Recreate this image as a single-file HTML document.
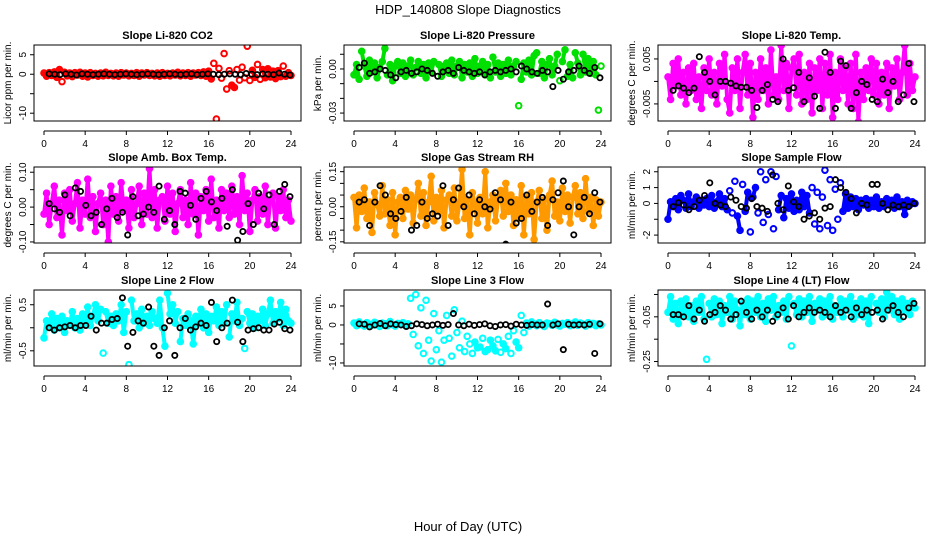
<!DOCTYPE html>
<html><head><meta charset="utf-8">
<style>
html,body{margin:0;padding:0;background:#fff;}
svg{display:block;font-family:"Liberation Sans",sans-serif;}
</style></head>
<body>
<svg id="chart" width="936" height="540" viewBox="0 0 936 540" xmlns="http://www.w3.org/2000/svg">
<text x="468" y="14" text-anchor="middle" font-size="13">HDP_140808  Slope Diagnostics</text>
<text x="468" y="531" text-anchor="middle" font-size="13">Hour of Day (UTC)</text>
</svg>
<script>
// ---- data (values; hours evenly spaced 0..24 across each series) ----
const hourTicks = [0,4,8,12,16,20,24];
const titles = ["Slope Li-820 CO2","Slope Li-820 Pressure","Slope Li-820 Temp.","Slope Amb. Box Temp.","Slope Gas Stream RH","Slope Sample Flow","Slope Line 2 Flow","Slope Line 3 Flow","Slope Line 4 (LT) Flow"];
const yTitles = ["Licor ppm per min.","kPa per min.","degrees C per min.","degrees C per min.","percent per min.","ml/min per min.","ml/min per min.","ml/min per min.","ml/min per min."];
const colors = ["#ff0000","#00e000","#ff00ff","#ff00ff","#ff9900","#0000ff","#00ffff","#00ffff","#00ffff"];
const yRanges = [[-12,7.5],[-0.0354,0.0163],[-0.0088,0.0081],[-0.103,0.115],[-0.155,0.17],[-2.5,2.3],[-0.83,0.82],[-10.8,9.2],[-0.27,0.07]];
const yTickVals = [[-10,-5,0,5],[-0.03,-0.02,-0.01,0,0.01],[-0.005,0,0.005],[-0.1,-0.05,0,0.05,0.1],[-0.15,-0.1,-0.05,0,0.05,0.1,0.15],[-2,-1,0,1,2],[-0.5,0,0.5],[-10,-5,0,5],[-0.25,-0.15,-0.05,0.05]];
const yTickLabels = [["-10","","0","5"],["-0.03","","","0.00",""],["-0.005","","0.005"],["-0.10","","0.00","","0.10"],["-0.15","","","0.00","","","0.15"],["-2","","0","1","2"],["-0.5","","0.5"],["-10","","0","5"],["-0.25","","-0.05",""]];

const co2 = [0.3,-0.5,0.4,-0.3,0.6,-0.8,1.2,-1.9,0.5,-0.4,0.3,-0.6,0.4,-0.2,0.5,-0.5,0.3,-0.7,0.4,-0.3,0.2,-0.5,0.3,-0.4,0.5,-0.3,0.2,-0.4,0.3,-0.5,0.4,-0.2,0.3,-0.4,0.2,-0.3,0.4,-0.5,0.3,-0.2,0.4,-0.3,0.2,-0.4,0.3,-0.5,0.4,-0.3,0.2,-0.4,0.3,-0.2,0.5,-0.4,0.3,-0.3,0.4,-0.5,0.3,-0.2,0.4,-0.3,0.6,-0.5,0.8,-1.2,2.8,-11.5,1.5,-1.0,5.3,-3.8,0.9,-2.8,-3.4,1.2,-1.5,1.8,-0.9,7.2,-1.6,1.0,-0.8,2.5,-1.3,1.2,-0.9,1.4,-0.7,0.8,-1.1,0.9,-0.6,2.1,-0.5,0.4,-0.3];
const co2Ref = [0.1,0,-0.1,0.1,0,-0.2,0.1,0,-0.1,0,0.1,0,-0.1,0,0.1,0,-0.1,0,0.1,0,-0.1,0,0.1,0,-0.1,0,0.1,-0.1,0,0.1,0,-0.1,0,0.1,0,-0.1,0.2,0,-0.1,0.1,0,-0.1,0.3,0,-0.2];
const pres = [-0.004,0.003,-0.007,0.012,0.002,-0.005,0.006,-0.002,0.004,-0.006,0.001,0.005,0.014,-0.004,0.003,-0.008,0.002,0.005,-0.003,0.004,-0.005,0.002,0.006,-0.004,0.001,0.005,-0.003,0.003,-0.006,0.004,-0.002,0.005,-0.039,0.003,-0.005,0.002,0.004,-0.003,0.006,-0.004,0.002,0.005,-0.006,0.003,-0.002,0.004,-0.005,0.007,-0.003,0.002,0.005,-0.004,0.003,-0.006,0.008,-0.002,0.004,-0.005,0.003,-0.003,0.006,-0.004,0.002,0.005,-0.025,-0.007,0.004,-0.002,0.006,-0.004,0.009,0.011,-0.003,0.005,-0.006,0.003,0.007,-0.004,0.002,0.010,-0.008,0.005,0.013,-0.005,0.003,-0.006,0.011,0.004,-0.004,0.010,-0.002,0.007,-0.003,0.005,-0.004,-0.028,0.002];
const presRef = [0.001,0.004,-0.003,-0.002,0.000,-0.001,-0.004,-0.006,-0.002,-0.001,-0.003,-0.002,0.000,-0.001,-0.003,-0.005,-0.002,-0.001,-0.003,0.001,-0.001,-0.002,-0.003,-0.002,-0.004,-0.002,-0.001,-0.002,-0.001,0.000,-0.002,0.002,0.000,-0.002,-0.003,-0.001,-0.002,-0.012,-0.001,-0.007,-0.002,-0.001,0.002,-0.001,-0.003,0.001,-0.006];
const temp = [0.001,-0.004,0.004,-0.001,0.005,-0.003,0.002,-0.005,0.003,-0.002,0.004,-0.004,0.001,-0.006,0.003,-0.002,0.005,-0.003,0.002,-0.005,0.004,-0.001,0.006,-0.004,-0.007,0.003,-0.002,0.005,-0.006,0.002,0.006,-0.003,0.004,-0.008,0.002,-0.004,0.005,-0.002,0.003,-0.005,0.007,-0.003,0.001,-0.004,0.008,-0.002,0.004,-0.006,0.003,0.005,-0.003,0.006,-0.005,0.002,-0.004,0.004,-0.007,0.003,-0.002,0.005,-0.006,0.004,-0.003,0.006,-0.008,0.002,-0.004,0.005,-0.002,0.003,-0.005,0.004,-0.006,0.006,-0.009,0.002,-0.004,0.003,-0.002,0.005,-0.003,0.004,-0.005,0.002,-0.003,0.004,-0.006,0.003,-0.001,0.005,-0.004,0.002,0.008,-0.003,0.004,-0.002,0.001];
const tempRef = [-0.002,-0.001,-0.0015,-0.0025,-0.0015,0.0055,0.002,0.0,-0.003,0.0,0.0,-0.0004,-0.001,-0.0013,-0.0013,-0.002,-0.0058,-0.002,-0.0007,-0.004,-0.0045,0.005,-0.002,-0.0014,0.002,-0.0045,0.0008,-0.0033,-0.006,0.0065,0.002,-0.006,0.0045,0.0035,-0.006,-0.0025,0.0,-0.0007,-0.004,-0.0045,0.0005,-0.0025,0.0,-0.0045,-0.003,0.004,-0.0045];
const box = [-0.02,0.04,-0.05,0.01,0.06,-0.03,0.02,-0.08,0.04,-0.01,0.05,-0.04,0.01,0.07,-0.06,0.02,-0.02,0.08,-0.03,0.03,-0.07,0.01,0.04,-0.05,0.02,-0.1,0.06,-0.02,0.03,-0.04,0.07,-0.01,0.02,-0.06,0.05,-0.03,0.01,0.06,-0.05,0.04,-0.02,0.11,-0.03,0.05,-0.06,0.02,0.03,-0.04,0.06,-0.02,0.04,-0.07,0.01,0.05,-0.03,0.02,-0.05,0.07,-0.02,0.04,-0.08,0.03,-0.01,0.05,-0.04,0.08,-0.03,0.02,-0.06,0.05,-0.01,0.04,-0.03,0.06,-0.02,0.03,-0.05,0.09,-0.01,0.04,-0.07,0.02,0.05,-0.04,0.03,-0.02,0.06,-0.05,0.02,0.04,-0.06,0.03,-0.01,0.05,-0.03,0.02,-0.04];
const boxRef = [0.01,-0.005,-0.015,0.035,-0.025,0.055,0.045,0.005,-0.025,-0.015,-0.05,-0.005,0.025,-0.03,-0.015,-0.08,0.03,-0.025,-0.02,0.0,-0.015,0.06,-0.035,-0.01,-0.05,0.045,0.04,0.005,-0.035,0.025,0.045,0.015,-0.01,0.025,-0.055,0.05,-0.095,-0.07,0.01,-0.05,0.04,-0.005,0.035,-0.05,0.045,0.065,0.03];
const rh = [0.04,-0.09,0.05,-0.02,0.08,-0.05,0.02,-0.11,0.06,0.01,-0.04,0.09,-0.03,0.03,-0.08,0.06,-0.12,0.02,0.04,-0.05,0.07,-0.01,0.05,-0.07,0.03,0.10,-0.04,0.06,-0.08,0.02,0.13,-0.06,0.04,-0.02,0.07,-0.09,0.03,0.05,-0.04,0.08,-0.06,0.02,0.16,-0.05,0.03,-0.12,0.06,0.01,-0.07,0.04,-0.03,0.15,-0.09,0.02,0.05,-0.06,0.03,0.07,-0.04,0.10,-0.02,0.05,-0.08,0.03,-0.05,0.09,-0.12,0.04,-0.03,0.06,-0.14,0.02,0.07,-0.05,0.03,-0.10,0.05,0.11,-0.04,0.02,-0.06,0.08,-0.02,0.05,-0.07,0.04,0.09,-0.03,0.06,-0.05,0.12,-0.02,0.04,-0.08,0.03,-0.04,0.02];
const rhRef = [0.02,0.03,-0.08,0.02,0.09,0.05,-0.03,-0.05,-0.02,0.04,-0.1,-0.08,0.02,-0.05,-0.03,-0.04,0.09,-0.08,0.03,0.08,0.0,0.05,-0.03,0.03,0.0,-0.01,0.06,0.03,-0.16,0.02,-0.07,-0.05,0.05,-0.02,0.02,0.04,-0.08,0.03,0.06,0.11,0.0,-0.12,0.0,0.04,-0.03,0.06,0.02];
const flow = [-1.0,0.1,-0.2,0.3,-0.4,0.5,0.2,-0.3,0.6,-0.2,0.1,0.4,-0.3,0.2,-0.1,0.3,-0.2,0.5,-0.3,0.1,0.6,-0.2,0.3,-0.4,0.8,-0.6,1.4,-0.8,-1.7,1.2,-0.5,0.7,-1.8,0.4,1.0,-0.6,2.0,-1.2,1.5,-0.7,2.0,-1.6,1.7,-0.4,0.5,-0.9,0.3,-0.3,0.6,-0.5,0.2,-0.4,0.7,-0.2,0.5,-0.6,1.0,-1.3,0.7,-1.6,0.4,2.1,-1.4,1.5,-1.7,0.9,-1.0,1.3,-0.5,0.6,-0.3,0.4,-0.2,0.3,-0.4,0.2,-0.1,0.3,-0.3,0.2,-0.2,0.4,-0.3,0.1,-0.2,0.3,-0.1,0.2,-0.3,0.4,-0.2,0.1,-0.7,0.2,-0.1,0.1,0.0];
const flowRef = [-0.2,0.05,-0.1,-0.4,-0.2,0.2,0.5,1.3,0.0,-0.1,-0.2,0.4,0.2,-0.2,-0.3,0.3,-0.2,-0.3,-0.5,1.8,0.0,-0.4,1.1,0.1,-0.2,-1.0,-0.8,-0.6,-1.0,-0.3,-0.2,1.5,1.0,0.7,0.3,-0.6,0.0,-0.1,1.2,1.2,0.0,-0.4,-0.1,-0.2,-0.1,-0.2,0.0];
const line2 = [-0.22,0.15,0.05,0.3,-0.05,0.2,0.0,0.25,-0.1,0.15,0.05,0.35,0.0,0.2,-0.05,0.3,0.1,0.45,0.05,0.25,0.5,0.15,0.4,-0.55,0.35,0.1,0.25,0.05,0.3,0.15,0.5,-0.1,0.35,-0.8,0.6,0.15,0.3,0.0,0.4,0.1,0.25,0.05,0.35,0.2,0.1,0.6,0.0,-0.4,0.75,0.3,0.5,0.1,0.35,-0.3,0.2,0.05,0.3,0.15,-0.35,0.25,0.1,0.4,0.0,0.3,-0.1,0.25,0.15,0.45,0.05,0.35,0.1,0.5,-0.2,0.3,0.15,0.55,0.05,0.2,-0.45,0.35,0.1,0.3,0.0,0.25,0.15,0.4,0.05,0.3,0.6,0.1,0.35,0.2,0.55,0.05,0.4,0.15,0.1];
const line2Ref = [0.0,-0.05,0.0,0.02,0.05,0.0,0.05,0.05,0.25,-0.05,0.1,0.1,0.18,0.2,0.65,-0.4,-0.1,0.15,0.1,0.45,-0.4,-0.6,0.0,0.15,-0.6,0.0,0.2,-0.05,0.02,0.1,0.05,0.55,-0.3,0.0,0.1,0.6,0.12,-0.3,-0.05,-0.02,0.0,-0.05,-0.05,0.08,0.12,-0.02,-0.05];
const line3 = [0.5,-0.2,0.8,0.1,-0.3,0.6,0.2,-0.1,0.7,0.0,-0.4,0.5,0.3,-0.2,0.9,0.1,-0.3,0.4,0.2,0.6,-0.2,0.3,7.0,-2.5,8.0,-5.5,4.5,-7.5,6.5,-4.0,-9.5,3.0,-6.5,-1.5,-9.8,-4.0,2.5,-3.5,-8.2,4.0,-2.0,-6.0,1.0,-7.0,-3.0,-5.0,-7.5,-4.5,-6.0,-5.8,-3.5,-7.0,-6.5,-4.0,-5.5,-6.8,-3.8,-7.2,-5.0,-6.2,-3.0,-7.5,-1.5,-4.5,-6.0,2.5,-2.0,0.5,-0.3,0.8,0.2,-0.2,0.6,0.1,-0.4,0.5,0.3,-0.1,0.7,0.0,-0.3,0.4,0.2,0.6,-0.2,0.3,0.8,-0.1,0.5,0.2,-0.3,0.6,0.1,0.4,-0.2,0.3,0.0];
const line3Ref = [0.3,0.2,-0.5,0.0,0.4,-0.2,0.3,0.1,0.0,-0.4,-0.2,0.3,0.1,-0.2,0.0,0.2,-0.1,0.1,3.0,0.0,-0.2,0.2,-0.1,0.1,0.3,-0.2,-0.4,0.0,0.1,-0.3,0.2,0.0,-0.1,0.1,0.0,0.0,5.5,0.0,0.3,-6.5,0.2,0.0,0.1,0.0,0.2,-7.5,0.3];
const line4 = [-0.03,0.04,-0.06,0.01,-0.08,0.02,-0.04,0.03,-0.05,0.0,-0.07,0.02,-0.03,0.04,-0.06,-0.24,0.01,-0.05,0.03,-0.04,0.02,-0.08,0.0,-0.03,0.04,-0.06,0.02,-0.02,-0.09,0.01,-0.04,0.03,-0.06,0.02,-0.03,0.04,-0.05,0.01,-0.07,0.03,-0.02,0.04,-0.05,0.0,-0.03,0.02,-0.06,0.04,-0.18,0.01,-0.04,0.03,-0.05,0.02,-0.03,0.04,-0.07,0.01,-0.02,0.03,-0.05,0.02,-0.04,0.04,-0.06,0.0,-0.03,0.03,-0.05,0.02,-0.02,0.04,-0.06,0.01,-0.04,0.03,-0.05,0.02,-0.08,0.04,-0.29,0.01,-0.03,0.03,-0.05,0.06,-0.02,0.04,-0.04,0.02,-0.06,0.03,-0.02,0.01,-0.04,0.02,-0.01];
const line4Ref = [-0.04,-0.04,-0.05,0.0,-0.06,-0.02,-0.07,-0.04,-0.03,0.0,-0.02,-0.06,-0.04,0.02,-0.03,-0.06,-0.02,-0.05,-0.02,-0.07,-0.04,-0.01,-0.06,0.0,-0.05,-0.03,-0.01,-0.03,-0.02,-0.03,-0.05,0.0,-0.03,-0.02,-0.05,-0.01,-0.04,-0.02,-0.03,-0.02,-0.06,-0.02,0.0,-0.03,-0.05,-0.01,0.01];

const seriesVals = [co2,pres,temp,box,rh,flow,line2,line3,line4];
const refVals = [co2Ref,presRef,tempRef,boxRef,rhRef,flowRef,line2Ref,line3Ref,line4Ref];
// maximum jump between neighbouring samples still drawn as part of the dense band (rendering threshold)
const bandJump = [2.2,0.013,0.02,0.2,0.3,1.2,0.6,1.6,0.12];

// ---- layout ----
const colLeft = [34,344,658], boxW = 267, rowTop = [45,167,290], boxH = 76;
const NS = "http://www.w3.org/2000/svg";
const svg = document.getElementById("chart");
function mk(tag, attrs, parent){ const e=document.createElementNS(NS,tag); for(const k in attrs) e.setAttribute(k,attrs[k]); (parent||svg).appendChild(e); return e; }

for (let p=0;p<9;p++){
  const L = colLeft[p%3], T = rowTop[Math.floor(p/3)], R = L+boxW, B = T+boxH;
  const [ymin,ymax] = yRanges[p];
  const xS = h => L + 10 + h*(boxW-20)/24;
  const yS = v => B - (v-ymin)/(ymax-ymin)*boxH;
  const g = mk("g",{});
  
  

  const t = mk("text",{x:(L+R)/2,y:T-6,"text-anchor":"middle","font-size":"11","font-weight":"bold"},g);
  t.textContent = titles[p];
  
  

  const yt = mk("text",{x:0,y:0,"text-anchor":"middle","font-size":"10",transform:`translate(${L-23},${(T+B)/2}) rotate(-90)`},g);
  yt.textContent = yTitles[p];
  
  

  yTickVals[p].forEach((v,i)=>{
    const y = yS(v);
    const tk = mk("line",{x1:L-4,x2:L,y1:y,y2:y,stroke:"#000","stroke-width":"1"},g);
    
    
    if (yTickLabels[p][i]) {
      const tl = mk("text",{x:0,y:0,"text-anchor":"middle","font-size":"10",transform:`translate(${L-8},${y}) rotate(-90)`},g);
      tl.textContent = yTickLabels[p][i];
      
      
    }
  });
  const ax = mk("line",{x1:xS(0),x2:xS(24),y1:B+10,y2:B+10,stroke:"#000","stroke-width":"1"},g);
  
  
  hourTicks.forEach(h=>{
    const tk = mk("line",{x1:xS(h),x2:xS(h),y1:B+10,y2:B+14,stroke:"#000","stroke-width":"1"},g);
    
    
    const tl = mk("text",{x:xS(h),y:B+26,"text-anchor":"middle","font-size":"10"},g);
    tl.textContent = String(h);
    
    
  });
  const clip = mk("clipPath",{id:"clip"+p},g);
  mk("rect",{x:L,y:T,width:boxW,height:boxH},clip);
  const pg = mk("g",{"clip-path":`url(#clip${p})`},g);
  const vals = seriesVals[p];
  const hx = i => i*24/(vals.length-1);
  // dense band between neighbouring samples
  for (let i=1;i<vals.length;i++){
    if (Math.abs(vals[i]-vals[i-1]) <= bandJump[p]) {
      const ln = mk("line",{x1:xS(hx(i-1)),y1:yS(vals[i-1]),x2:xS(hx(i)),y2:yS(vals[i]),stroke:colors[p],"stroke-width":"4","stroke-linecap":"round"},pg);
      
      
    }
  }
  vals.forEach((v,i)=>{
    const c = mk("circle",{cx:xS(hx(i)),cy:yS(v),r:2.8,fill:"none",stroke:colors[p],"stroke-width":"2"},pg);
    
    
  });
  const rv = refVals[p];
  rv.forEach((v,i)=>{
    const h = 0.5 + i*23.4/(rv.length-1);
    const c = mk("circle",{cx:xS(h),cy:yS(v),r:2.6,fill:"none",stroke:"#000","stroke-width":"1.8"},pg);
    
    
  });
  const bx = mk("rect",{x:L,y:T,width:boxW,height:boxH,fill:"none",stroke:"#000","stroke-width":"1"},g);
  
  
}
</script>
</body></html>
